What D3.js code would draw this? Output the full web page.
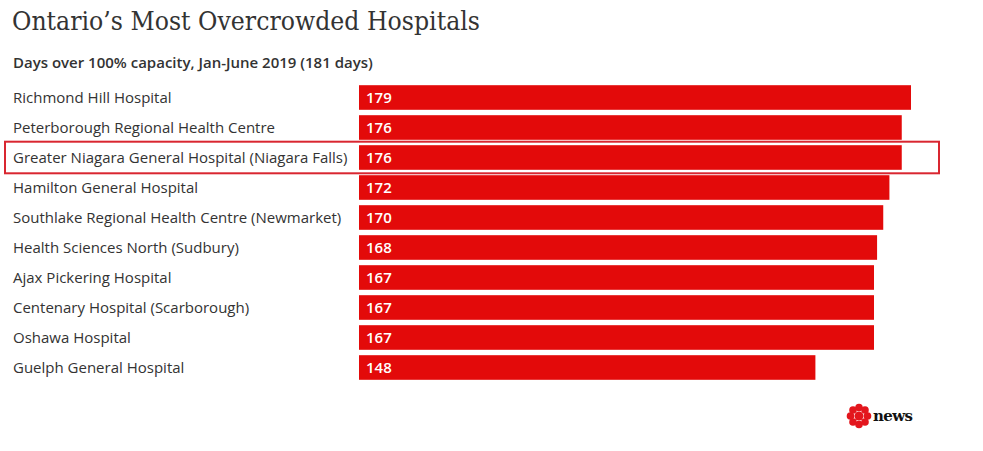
<!DOCTYPE html>
<html>
<head>
<meta charset="utf-8">
<script src="https://cdn.jsdelivr.net/npm/d3@7"></script>
<style>
body { margin: 0; background: #fff; }
svg { display: block; }
</style>
</head>
<body>
<div id="chart"></div>
<script>
var hospitals = ["Richmond Hill Hospital", "Peterborough Regional Health Centre",
	"Greater Niagara General Hospital (Niagara Falls)", "Hamilton General Hospital",
	"Southlake Regional Health Centre (Newmarket)", "Health Sciences North (Sudbury)",
	"Ajax Pickering Hospital", "Centenary Hospital (Scarborough)", "Oshawa Hospital",
	"Guelph General Hospital"];
var days = [179, 176, 176, 172, 170, 168, 167, 167, 167, 148];
var highlighted = "Greater Niagara General Hospital (Niagara Falls)";

var W = 983, H = 451;
var svg = d3.select("#chart").append("svg").attr("width", W).attr("height", H);

svg.append("text").attr("x", 12).attr("y", 30)
	.attr("font-family", "'DejaVu Serif', serif").attr("font-size", 26)
	.attr("textLength", 468).attr("lengthAdjust", "spacingAndGlyphs")
	.attr("fill", "#333")
	.text("Ontario\u2019s Most Overcrowded Hospitals");

svg.append("text").attr("x", 13).attr("y", 68)
	.attr("font-family", "'Open Sans', sans-serif").attr("font-size", 15)
	.attr("font-weight", 600).attr("fill", "#333")
	.text("Days over 100% capacity, Jan-June 2019 (181 days)");

var x = d3.scaleLinear().domain([0, 179]).range([359, 911]);
var y = d3.scaleBand().domain(hospitals).range([82.5, 382.5]).paddingInner(0.18).paddingOuter(0.09);

var rows = svg.selectAll("g.row").data(hospitals).enter().append("g").attr("class", "row");

rows.append("rect")
	.attr("x", x(0))
	.attr("y", function (d) { return y(d); })
	.attr("width", function (d, i) { return x(days[i]) - x(0); })
	.attr("height", y.bandwidth())
	.attr("fill", "#e30a0a");

rows.append("text")
	.attr("x", 13)
	.attr("y", function (d) { return y(d) + y.bandwidth() / 2 + 5.5; })
	.attr("font-family", "'Open Sans', sans-serif").attr("font-size", 15)
	.attr("fill", "#333")
	.text(function (d) { return d; });

rows.append("text")
	.attr("x", x(0) + 7)
	.attr("y", function (d) { return y(d) + y.bandwidth() / 2 + 5.5; })
	.attr("font-family", "'Open Sans', sans-serif").attr("font-size", 15)
	.attr("font-weight", 600).attr("fill", "#fff")
	.text(function (d, i) { return days[i]; });

// highlight box
svg.append("rect")
	.attr("x", 5).attr("y", y(highlighted) - 3.5)
	.attr("width", 934).attr("height", y.bandwidth() + 7)
	.attr("fill", "none").attr("stroke", "#d92630").attr("stroke-width", 2);

// cbc news logo
var logo = svg.append("g").attr("transform", "translate(859,416)");
var gem = [[0, -8.5], [0, 8.5], [-8.5, 0], [8.5, 0], [-6, -6], [6, -6], [-6, 6], [6, 6]];
logo.selectAll("circle.p").data(gem).enter().append("circle")
	.attr("cx", function (d) { return d[0]; }).attr("cy", function (d) { return d[1]; })
	.attr("r", 3.8).attr("fill", "#e3161d");
logo.append("circle").attr("r", 4.5).attr("fill", "#e3161d");
logo.append("text").attr("x", 14).attr("y", 5)
	.attr("font-family", "'DejaVu Serif', serif").attr("font-weight", "bold")
	.attr("font-size", 15).attr("letter-spacing", -0.6).attr("fill", "#111")
	.text("news");
</script>
</body>
</html>
